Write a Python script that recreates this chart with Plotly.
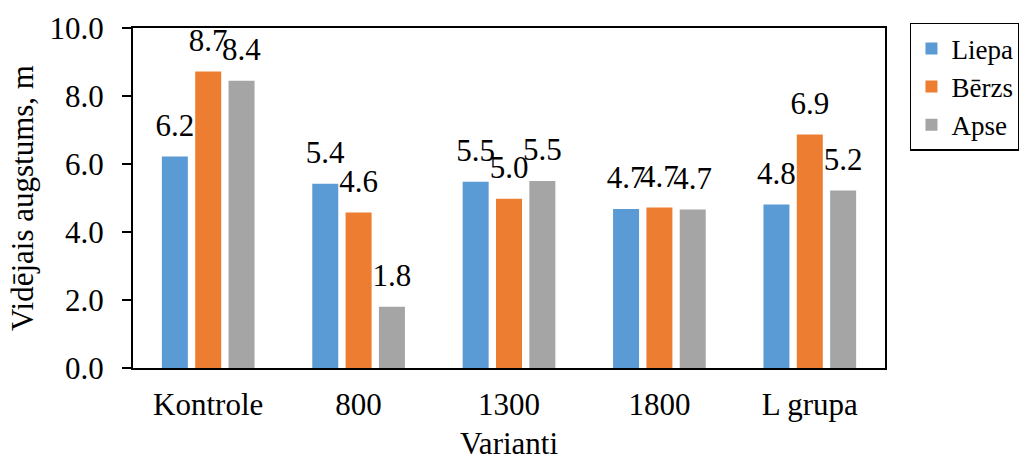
import plotly.graph_objects as go

categories = ["Kontrole", "800", "1300", "1800", "L grupa"]
liepa = [6.22, 5.42, 5.48, 4.68, 4.81]
berzs = [8.72, 4.57, 4.98, 4.72, 6.87]
apse = [8.45, 1.80, 5.50, 4.66, 5.22]
series_names = ["Liepa", "Bērzs", "Apse"]
colors = ["#5B9BD5", "#ED7D31", "#A5A5A5"]
y_ticks = [0, 2, 4, 6, 8, 10]

FONT = "Liberation Serif, Times New Roman, DejaVu Serif, serif"
FS = 31
LABEL_PAD = 0.32  # extra space (in axis units) between a bar top and its value label

fig = go.Figure()
for i, (name, vals, col) in enumerate(zip(series_names, [liepa, berzs, apse], colors)):
    fig.add_trace(go.Bar(
        x=categories, y=vals, name=name, offsetgroup=str(i),
        marker=dict(color=col, line=dict(width=0)),
    ))
for i, (name, vals) in enumerate(zip(series_names, [liepa, berzs, apse])):
    # transparent carrier bars for the value labels, sharing each series' slot
    fig.add_trace(go.Bar(
        x=categories, y=[v + LABEL_PAD for v in vals], customdata=vals,
        offsetgroup=str(i), showlegend=False, hoverinfo="skip",
        marker=dict(color="rgba(0,0,0,0)", line=dict(width=0)),
        texttemplate="%{customdata:.1f}", textposition="outside",
        textfont=dict(family=FONT, size=FS, color="black"),
        constraintext="none", cliponaxis=False,
    ))

fig.update_layout(
    width=1019, height=461,
    margin=dict(l=133, r=134, t=28, b=93, autoexpand=False),
    paper_bgcolor="white", plot_bgcolor="white",
    barmode="group", bargap=0.335, bargroupgap=0.22,
    font=dict(family=FONT, size=FS, color="black"),
    showlegend=True,
    legend=dict(
        x=1.0332, y=1.015, xanchor="left", yanchor="top",
        bordercolor="black", borderwidth=1.5,
        font=dict(family=FONT, size=27, color="black"),
        tracegroupgap=0, itemwidth=30,
    ),
    uniformtext=dict(mode=False),
)
fig.update_xaxes(
    showline=True, linecolor="black", linewidth=2, mirror=True,
    ticks="", showgrid=False, ticklabelstandoff=8, automargin=False,
    tickfont=dict(family=FONT, size=FS),
    title=dict(text="Varianti", font=dict(family=FONT, size=FS), standoff=22),
)
fig.update_yaxes(
    range=[0, 10], tickvals=y_ticks, tickformat=".1f",
    showline=True, linecolor="black", linewidth=2, mirror=True,
    ticks="outside", ticklen=9, tickwidth=1.5, tickcolor="black",
    showgrid=False, zeroline=False, ticklabelstandoff=12, automargin=False,
    tickfont=dict(family=FONT, size=FS),
    title=dict(text="Vidējais augstums, m", font=dict(family=FONT, size=FS), standoff=7),
)

fig.write_html("out.html")
